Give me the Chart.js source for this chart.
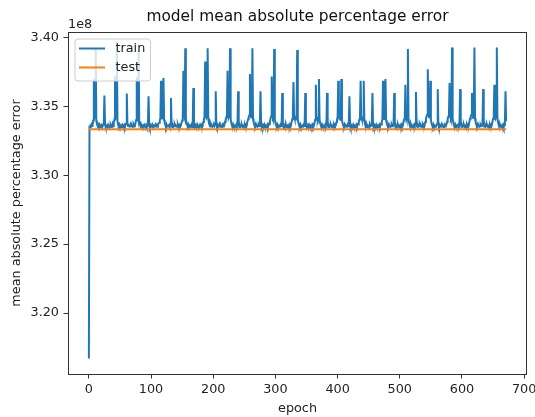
<!DOCTYPE html>
<html>
<head>
<meta charset="utf-8">
<title>model mean absolute percentage error</title>
<script src="https://cdn.jsdelivr.net/npm/chart.js@4.4.1/dist/chart.umd.min.js"></script>
<style>
  html, body { margin: 0; padding: 0; background: #fff; }
  #wrap { width: 535px; height: 417px; }
</style>
</head>
<body>
<div id="wrap"><canvas id="chart" width="535" height="417"></canvas></div>
<script>
// values in units of 1e8 (the axis shows the 1e8 offset like matplotlib)
const TRAIN_MAPE = [
  3.1670,3.3352,3.3351,3.3362,3.3359,3.3371,3.3366,3.3398,3.3700,3.3432,3.3415,3.3920,3.3396,3.3372,3.3359,3.3368,
  3.3355,3.3366,3.3350,3.3351,3.3363,3.3353,3.3354,3.3369,3.3375,3.3580,3.3370,3.3352,3.3361,3.3353,3.3356,3.3368,
  3.3357,3.3359,3.3352,3.3364,3.3351,3.3355,3.3372,3.3356,3.3378,3.3405,3.3720,3.3436,3.3412,3.3915,3.3392,3.3370,
  3.3357,3.3369,3.3356,3.3362,3.3351,3.3355,3.3367,3.3358,3.3353,3.3364,3.3352,3.3370,3.3376,3.3595,3.3373,3.3359,
  3.3362,3.3354,3.3357,3.3370,3.3358,3.3363,3.3352,3.3353,3.3368,3.3357,3.3360,3.3381,3.3402,3.3710,3.3430,3.3409,
  3.3910,3.3391,3.3368,3.3356,3.3371,3.3359,3.3363,3.3353,3.3358,3.3367,3.3356,3.3352,3.3365,3.3351,3.3360,3.3374,
  3.3575,3.3371,3.3350,3.3364,3.3353,3.3357,3.3369,3.3358,3.3362,3.3355,3.3355,3.3370,3.3354,3.3361,3.3352,3.3366,
  3.3378,3.3382,3.3396,3.3415,3.3687,3.3430,3.3412,3.3425,3.3706,3.3403,3.3380,3.3366,3.3352,3.3369,3.3355,3.3360,
  3.3359,3.3365,3.3353,3.3376,3.3561,3.3370,3.3351,3.3364,3.3352,3.3357,3.3369,3.3356,3.3360,3.3353,3.3354,3.3366,
  3.3350,3.3362,3.3355,3.3371,3.3368,3.3382,3.3398,3.3420,3.3760,3.3445,3.3424,3.3923,3.3410,3.3384,3.3367,3.3357,
  3.3370,3.3358,3.3362,3.3353,3.3356,3.3367,3.3350,3.3377,3.3634,3.3372,3.3352,3.3365,3.3354,3.3359,3.3370,3.3357,
  3.3361,3.3352,3.3355,3.3368,3.3359,3.3363,3.3371,3.3367,3.3388,3.3405,3.3428,3.3826,3.3441,3.3420,3.3433,3.3923,
  3.3412,3.3383,3.3366,3.3354,3.3370,3.3356,3.3361,3.3353,3.3357,3.3368,3.3359,3.3376,3.3610,3.3371,3.3353,3.3365,
  3.3353,3.3358,3.3370,3.3357,3.3362,3.3351,3.3354,3.3366,3.3355,3.3372,3.3369,3.3389,3.3404,3.3422,3.3440,3.3760,
  3.3446,3.3423,3.3436,3.3923,3.3409,3.3382,3.3365,3.3353,3.3369,3.3355,3.3360,3.3352,3.3357,3.3368,3.3358,3.3375,
  3.3610,3.3370,3.3351,3.3364,3.3353,3.3358,3.3369,3.3356,3.3361,3.3352,3.3354,3.3367,3.3355,3.3372,3.3370,3.3391,
  3.3408,3.3424,3.3437,3.3735,3.3441,3.3420,3.3432,3.3923,3.3411,3.3384,3.3366,3.3355,3.3370,3.3357,3.3362,3.3353,
  3.3357,3.3368,3.3359,3.3374,3.3610,3.3372,3.3352,3.3365,3.3353,3.3359,3.3370,3.3356,3.3361,3.3350,3.3354,3.3366,
  3.3354,3.3373,3.3371,3.3390,3.3410,3.3428,3.3718,3.3437,3.3418,3.3429,3.3918,3.3409,3.3381,3.3365,3.3354,3.3369,
  3.3356,3.3361,3.3353,3.3357,3.3368,3.3359,3.3375,3.3597,3.3370,3.3351,3.3364,3.3352,3.3358,3.3369,3.3355,3.3360,
  3.3352,3.3354,3.3366,3.3355,3.3372,3.3369,3.3388,3.3407,3.3425,3.3677,3.3433,3.3414,3.3406,3.3419,3.3432,3.3911,
  3.3407,3.3380,3.3364,3.3353,3.3369,3.3355,3.3360,3.3352,3.3356,3.3367,3.3358,3.3374,3.3597,3.3371,3.3352,3.3365,
  3.3353,3.3358,3.3369,3.3356,3.3361,3.3350,3.3354,3.3366,3.3354,3.3371,3.3368,3.3384,3.3403,3.3658,3.3428,3.3410,
  3.3401,3.3420,3.3699,3.3402,3.3378,3.3363,3.3352,3.3368,3.3355,3.3360,3.3352,3.3357,3.3368,3.3357,3.3374,3.3597,
  3.3370,3.3351,3.3364,3.3353,3.3358,3.3369,3.3356,3.3361,3.3351,3.3354,3.3366,3.3354,3.3371,3.3369,3.3386,3.3405,
  3.3424,3.3687,3.3430,3.3410,3.3403,3.3421,3.3699,3.3400,3.3377,3.3362,3.3352,3.3368,3.3355,3.3360,3.3352,3.3357,
  3.3368,3.3357,3.3373,3.3575,3.3369,3.3350,3.3363,3.3353,3.3358,3.3369,3.3356,3.3361,3.3351,3.3354,3.3366,3.3354,
  3.3371,3.3370,3.3387,3.3406,3.3424,3.3687,3.3428,3.3409,3.3404,3.3422,3.3687,3.3398,3.3376,3.3362,3.3351,3.3367,
  3.3355,3.3360,3.3352,3.3357,3.3368,3.3357,3.3362,3.3374,3.3597,3.3370,3.3351,3.3364,3.3353,3.3358,3.3369,3.3356,
  3.3361,3.3351,3.3354,3.3366,3.3354,3.3371,3.3369,3.3388,3.3408,3.3687,3.3431,3.3409,3.3423,3.3699,3.3400,3.3377,
  3.3362,3.3352,3.3368,3.3355,3.3360,3.3352,3.3357,3.3368,3.3357,3.3362,3.3374,3.3597,3.3370,3.3351,3.3364,3.3353,
  3.3358,3.3369,3.3356,3.3361,3.3351,3.3354,3.3366,3.3354,3.3371,3.3369,3.3387,3.3406,3.3425,3.3658,3.3434,3.3414,
  3.3426,3.3918,3.3410,3.3382,3.3365,3.3354,3.3369,3.3356,3.3361,3.3353,3.3357,3.3368,3.3358,3.3376,3.3605,3.3371,
  3.3352,3.3365,3.3353,3.3358,3.3369,3.3356,3.3361,3.3351,3.3354,3.3366,3.3354,3.3371,3.3368,3.3387,3.3408,3.3428,
  3.3440,3.3771,3.3444,3.3421,3.3426,3.3687,3.3402,3.3378,3.3363,3.3352,3.3368,3.3355,3.3360,3.3352,3.3357,3.3366,
  3.3375,3.3626,3.3372,3.3352,3.3365,3.3353,3.3358,3.3369,3.3356,3.3361,3.3351,3.3354,3.3366,3.3354,3.3371,3.3370,
  3.3389,3.3410,3.3426,3.3437,3.3670,3.3436,3.3416,3.3430,3.3928,3.3411,3.3384,3.3367,3.3355,3.3370,3.3357,3.3362,
  3.3353,3.3357,3.3368,3.3359,3.3376,3.3626,3.3372,3.3352,3.3365,3.3353,3.3358,3.3369,3.3356,3.3361,3.3351,3.3354,
  3.3366,3.3354,3.3371,3.3369,3.3390,3.3411,3.3427,3.3438,3.3597,3.3437,3.3417,3.3431,3.3928,3.3412,3.3385,3.3368,
  3.3356,3.3370,3.3357,3.3362,3.3353,3.3357,3.3368,3.3359,3.3362,3.3377,3.3626,3.3373,3.3353,3.3366,3.3354,3.3359,
  3.3370,3.3357,3.3361,3.3351,3.3354,3.3366,3.3354,3.3371,3.3370,3.3389,3.3409,3.3427,3.3658,3.3435,3.3415,3.3429,
  3.3928,3.3411,3.3384,3.3367,3.3355,3.3370,3.3357,3.3362,3.3353,3.3357,3.3368,3.3351,3.3366,3.3378,3.3610,3.3392
];
const TEST_MAPE = [
  3.3334,3.3334,3.3334,3.3334,3.3334,3.3334,3.3334,3.3334,3.3334,3.3334,3.3334,3.3334,3.3334,3.3334,3.3334,3.3334,3.3334,3.3334,3.3334,3.3334,3.3334,3.3334,3.3334,3.3334,
  3.3334,3.3334,3.3334,3.3334,3.3334,3.3334,3.3334,3.3334,3.3334,3.3334,3.3334,3.3334,3.3334,3.3334,3.3334,3.3334,3.3334,3.3334,3.3334,3.3334,3.3334,3.3334,3.3334,3.3334,
  3.3334,3.3334,3.3334,3.3334,3.3334,3.3334,3.3334,3.3334,3.3334,3.3334,3.3334,3.3334,3.3334,3.3334,3.3334,3.3334,3.3334,3.3334,3.3334,3.3334,3.3334,3.3334,3.3334,3.3334,
  3.3334,3.3334,3.3334,3.3334,3.3334,3.3334,3.3334,3.3334,3.3334,3.3334,3.3334,3.3334,3.3334,3.3334,3.3334,3.3334,3.3334,3.3334,3.3334,3.3334,3.3334,3.3334,3.3334,3.3334,
  3.3334,3.3334,3.3334,3.3334,3.3334,3.3334,3.3334,3.3334,3.3334,3.3334,3.3334,3.3334,3.3334,3.3334,3.3334,3.3334,3.3334,3.3334,3.3334,3.3334,3.3334,3.3334,3.3334,3.3334,
  3.3334,3.3334,3.3334,3.3334,3.3334,3.3334,3.3334,3.3334,3.3334,3.3334,3.3334,3.3334,3.3334,3.3334,3.3334,3.3334,3.3334,3.3334,3.3334,3.3334,3.3334,3.3334,3.3334,3.3334,
  3.3334,3.3334,3.3334,3.3334,3.3334,3.3334,3.3334,3.3334,3.3334,3.3334,3.3334,3.3334,3.3334,3.3334,3.3334,3.3334,3.3334,3.3334,3.3334,3.3334,3.3334,3.3334,3.3334,3.3334,
  3.3334,3.3334,3.3334,3.3334,3.3334,3.3334,3.3334,3.3334,3.3334,3.3334,3.3334,3.3334,3.3334,3.3334,3.3334,3.3334,3.3334,3.3334,3.3334,3.3334,3.3334,3.3334,3.3334,3.3334,
  3.3334,3.3334,3.3334,3.3334,3.3334,3.3334,3.3334,3.3334,3.3334,3.3334,3.3334,3.3334,3.3334,3.3334,3.3334,3.3334,3.3334,3.3334,3.3334,3.3334,3.3334,3.3334,3.3334,3.3334,
  3.3334,3.3334,3.3334,3.3334,3.3334,3.3334,3.3334,3.3334,3.3334,3.3334,3.3334,3.3334,3.3334,3.3334,3.3334,3.3334,3.3334,3.3334,3.3334,3.3334,3.3334,3.3334,3.3334,3.3334,
  3.3334,3.3334,3.3334,3.3334,3.3334,3.3334,3.3334,3.3334,3.3334,3.3334,3.3334,3.3334,3.3334,3.3334,3.3334,3.3334,3.3334,3.3334,3.3334,3.3334,3.3334,3.3334,3.3334,3.3334,
  3.3334,3.3334,3.3334,3.3334,3.3334,3.3334,3.3334,3.3334,3.3334,3.3334,3.3334,3.3334,3.3334,3.3334,3.3334,3.3334,3.3334,3.3334,3.3334,3.3334,3.3334,3.3334,3.3334,3.3334,
  3.3334,3.3334,3.3334,3.3334,3.3334,3.3334,3.3334,3.3334,3.3334,3.3334,3.3334,3.3334,3.3334,3.3334,3.3334,3.3334,3.3334,3.3334,3.3334,3.3334,3.3334,3.3334,3.3334,3.3334,
  3.3334,3.3334,3.3334,3.3334,3.3334,3.3334,3.3334,3.3334,3.3334,3.3334,3.3334,3.3334,3.3334,3.3334,3.3334,3.3334,3.3334,3.3334,3.3334,3.3334,3.3334,3.3334,3.3334,3.3334,
  3.3334,3.3334,3.3334,3.3334,3.3334,3.3334,3.3334,3.3334,3.3334,3.3334,3.3334,3.3334,3.3334,3.3334,3.3334,3.3334,3.3334,3.3334,3.3334,3.3334,3.3334,3.3334,3.3334,3.3334,
  3.3334,3.3334,3.3334,3.3334,3.3334,3.3334,3.3334,3.3334,3.3334,3.3334,3.3334,3.3334,3.3334,3.3334,3.3334,3.3334,3.3334,3.3334,3.3334,3.3334,3.3334,3.3334,3.3334,3.3334,
  3.3334,3.3334,3.3334,3.3334,3.3334,3.3334,3.3334,3.3334,3.3334,3.3334,3.3334,3.3334,3.3334,3.3334,3.3334,3.3334,3.3334,3.3334,3.3334,3.3334,3.3334,3.3334,3.3334,3.3334,
  3.3334,3.3334,3.3334,3.3334,3.3334,3.3334,3.3334,3.3334,3.3334,3.3334,3.3334,3.3334,3.3334,3.3334,3.3334,3.3334,3.3334,3.3334,3.3334,3.3334,3.3334,3.3334,3.3334,3.3334,
  3.3334,3.3334,3.3334,3.3334,3.3334,3.3334,3.3334,3.3334,3.3334,3.3334,3.3334,3.3334,3.3334,3.3334,3.3334,3.3334,3.3334,3.3334,3.3334,3.3334,3.3334,3.3334,3.3334,3.3334,
  3.3334,3.3334,3.3334,3.3334,3.3334,3.3334,3.3334,3.3334,3.3334,3.3334,3.3334,3.3334,3.3334,3.3334,3.3334,3.3334,3.3334,3.3334,3.3334,3.3334,3.3334,3.3334,3.3334,3.3334,
  3.3334,3.3334,3.3334,3.3334,3.3334,3.3334,3.3334,3.3334,3.3334,3.3334,3.3334,3.3334,3.3334,3.3334,3.3334,3.3334,3.3334,3.3334,3.3334,3.3334,3.3334,3.3334,3.3334,3.3334,
  3.3334,3.3334,3.3334,3.3334,3.3334,3.3334,3.3334,3.3334,3.3334,3.3334,3.3334,3.3334,3.3334,3.3334,3.3334,3.3334,3.3334,3.3334,3.3334,3.3334,3.3334,3.3334,3.3334,3.3334,
  3.3334,3.3334,3.3334,3.3334,3.3334,3.3334,3.3334,3.3334,3.3334,3.3334,3.3334,3.3334,3.3334,3.3334,3.3334,3.3334,3.3334,3.3334,3.3334,3.3334,3.3334,3.3334,3.3334,3.3334,
  3.3334,3.3334,3.3334,3.3334,3.3334,3.3334,3.3334,3.3334,3.3334,3.3334,3.3334,3.3334,3.3334,3.3334,3.3334,3.3334,3.3334,3.3334,3.3334,3.3334,3.3334,3.3334,3.3334,3.3334,
  3.3334,3.3334,3.3334,3.3334,3.3334,3.3334,3.3334,3.3334,3.3334,3.3334,3.3334,3.3334,3.3334,3.3334,3.3334,3.3334,3.3334,3.3334,3.3334,3.3334,3.3334,3.3334,3.3334,3.3334,
  3.3334,3.3334,3.3334,3.3334,3.3334,3.3334,3.3334,3.3334,3.3334,3.3334,3.3334,3.3334,3.3334,3.3334,3.3334,3.3334,3.3334,3.3334,3.3334,3.3334,3.3334,3.3334,3.3334,3.3334,
  3.3334,3.3334,3.3334,3.3334,3.3334,3.3334,3.3334,3.3334,3.3334,3.3334,3.3334,3.3334,3.3334,3.3334,3.3334,3.3334,3.3334,3.3334,3.3334,3.3334,3.3334,3.3334,3.3334,3.3334,
  3.3334,3.3334,3.3334,3.3334,3.3334,3.3334,3.3334,3.3334,3.3334,3.3334,3.3334,3.3334,3.3334,3.3334,3.3334,3.3334,3.3334,3.3334,3.3334,3.3334,3.3334,3.3334,3.3334,3.3334
];
const X_TICKS = [0, 100, 200, 300, 400, 500, 600, 700];
const Y_TICKS = [3.20, 3.25, 3.30, 3.35, 3.40];
const SERIES_LABELS = ['train', 'test'];
const SERIES_COLORS = ['#1f77b4', '#ff7f0e'];
const TITLE = 'model mean absolute percentage error';

const FONT = 'DejaVu Sans';
const TICK_PX = 12.8;

// matplotlib style autoscale: 5% margin around the data
function withMargin(lo, hi){
  const pad = (hi - lo) * 0.05;
  return [lo - pad, hi + pad];
}
const allY = TRAIN_MAPE.concat(TEST_MAPE);
const [yMin, yMax] = withMargin(Math.min(...allY), Math.max(...allY));
const [xMin, xMax] = withMargin(0, TRAIN_MAPE.length - 1);

// title over the axes, frame, 1e8 offset text and a matplotlib-like legend drawn over the data
const mplDecor = {
  id: 'mplDecor',
  afterDatasetsDraw(chart){
    const {ctx, chartArea: a} = chart;
    ctx.save();
    ctx.strokeStyle = '#333';
    ctx.lineWidth = 1;
    ctx.strokeRect(Math.round(a.left) + 0.5, Math.round(a.top) + 0.5,
                   Math.round(a.right - a.left) - 1, Math.round(a.bottom - a.top));

    ctx.fillStyle = '#111';
    ctx.font = '15.4px "' + FONT + '"';
    ctx.textAlign = 'center';
    ctx.textBaseline = 'middle';
    ctx.fillText(TITLE, (a.left + a.right) / 2, 16.8);

    ctx.fillStyle = '#222';
    ctx.font = TICK_PX + 'px "' + FONT + '"';
    ctx.textAlign = 'left';
    ctx.textBaseline = 'alphabetic';
    ctx.fillText('1e8', a.left, a.top - 4.5);

    // legend box
    const bx = a.left + 6.5, by = a.top + 6.5, bw = 75.5, bh = 42;
    ctx.beginPath();
    ctx.roundRect(bx + 0.5, by + 0.5, bw, bh, 3);
    ctx.fillStyle = 'rgba(255,255,255,0.8)';
    ctx.fill();
    ctx.strokeStyle = '#cccccc';
    ctx.stroke();
    chart.data.datasets.forEach((ds, i) => {
      const y = by + 10 + i * 19;
      ctx.beginPath();
      ctx.moveTo(bx + 4.5, y);
      ctx.lineTo(bx + 30.5, y);
      ctx.strokeStyle = ds.borderColor;
      ctx.lineWidth = 2;
      ctx.stroke();
      ctx.fillStyle = '#222';
      ctx.textBaseline = 'middle';
      ctx.fillText(ds.label, bx + 41, y);
    });
    ctx.restore();
  }
};

const labels = TRAIN_MAPE.map((_, i) => i);

new Chart(document.getElementById('chart'), {
  type: 'line',
  data: {
    labels,
    datasets: [
      {label: SERIES_LABELS[0], data: TRAIN_MAPE, borderColor: SERIES_COLORS[0], backgroundColor: SERIES_COLORS[0],
       borderWidth: 2, pointRadius: 0, tension: 0, order: 2},
      {label: SERIES_LABELS[1], data: TEST_MAPE, borderColor: SERIES_COLORS[1], backgroundColor: SERIES_COLORS[1],
       borderWidth: 2, pointRadius: 0, tension: 0, order: 1}
    ]
  },
  options: {
    responsive: false,
    animation: false,
    events: [],
    layout: {padding: {left: 0, right: 8, top: 32, bottom: 0}},
    plugins: {
      legend: {display: false},
      tooltip: {enabled: false},
      title: {display: false}
    },
    scales: {
      x: {
        type: 'linear',
        min: xMin, max: xMax,
        afterBuildTicks: s => { s.ticks = X_TICKS.map(v => ({value: v})); },
        afterFit: s => { s.height = 43; s.paddingLeft = 0; s.paddingRight = 0; },
        grid: {drawOnChartArea: false, drawTicks: true, tickLength: 4.5, tickColor: '#333'},
        border: {display: false},
        ticks: {color: '#222', font: {family: FONT, size: TICK_PX}, padding: 3, maxRotation: 0,
                callback: v => String(Math.round(v))},
        title: {display: true, text: 'epoch', color: '#222', font: {family: FONT, size: TICK_PX},
                padding: {top: 0, bottom: 1}}
      },
      y: {
        min: yMin, max: yMax,
        afterBuildTicks: s => { s.ticks = Y_TICKS.map(v => ({value: v})); },
        afterFit: s => { s.width = 68; s.paddingTop = 0; s.paddingBottom = 0; },
        grid: {drawOnChartArea: false, drawTicks: true, tickLength: 4.5, tickColor: '#333'},
        border: {display: false},
        ticks: {color: '#222', font: {family: FONT, size: TICK_PX}, padding: 4.5,
                callback: v => v.toFixed(2)},
        title: {display: true, text: 'mean absolute percentage error', color: '#222',
                font: {family: FONT, size: TICK_PX}, padding: {top: 9, bottom: 0}}
      }
    }
  },
  plugins: [mplDecor]
});
</script>
</body>
</html>
